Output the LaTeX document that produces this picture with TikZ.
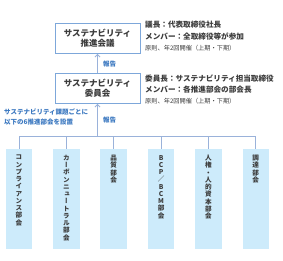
\documentclass[tikz,border=0pt]{standalone}
\usepackage{fontspec}
\setmainfont{Noto Sans CJK JP}
\newfontfamily\jp{Noto Sans CJK JP}
\newfontfamily\vjp[RawFeature=+vert]{Noto Sans CJK JP}
\usetikzlibrary{arrows.meta}
\definecolor{boxline}{HTML}{7DA7DA}
\definecolor{txt}{HTML}{3C3C3C}
\definecolor{bluetxt}{HTML}{3B78C0}
\definecolor{conn}{HTML}{9AB2DA}
\definecolor{barfill}{HTML}{CDEBFB}
\tikzset{
  mainbox/.style={draw=boxline, line width=0.8pt, fill=white, minimum width=85pt, minimum height=30pt, inner sep=0pt, align=center, text=txt, font=\jp\bfseries\fontsize{8.5}{10}\selectfont},
  info/.style={anchor=west, inner sep=0pt, text=txt, font=\jp\bfseries\fontsize{7.6}{9}\selectfont},
  infosmall/.style={anchor=west, inner sep=0pt, text=txt, font=\jp\fontsize{6.2}{8}\selectfont},
  bluelabel/.style={inner sep=0pt, text=bluetxt, font=\jp\bfseries\fontsize{6.5}{9.3}\selectfont},
  bar/.style={fill=barfill, draw=none, minimum width=26.5pt, minimum height=100pt, inner sep=0pt, anchor=north},
  vtext/.style={anchor=north, inner sep=0pt, align=center, text=txt, font=\vjp\bfseries\fontsize{6.6}{7.25}\selectfont},
  connector/.style={draw=conn, line width=0.9pt},
  uparrow/.style={draw=conn, line width=0.9pt, -{Straight Barb[length=2.5pt,width=5pt]}}
}
\begin{document}
\begin{tikzpicture}[x=1pt,y=-1pt]
\useasboundingbox (0,0) rectangle (283,260);

\node[mainbox] (council) at (97.5,38.5) {サステナビリティ\\推進会議};
\node[mainbox] (committee) at (97.5,88.5) {サステナビリティ\\委員会};

\node[info] (c1) at (145,25) {議長：代表取締役社長};
\node[info] (c2) at (145,36.5) {メンバー：全取締役等が参加};
\node[infosmall] (c3) at (145,48) {原則、年2回開催（上期・下期）};

\node[info] (m1) at (145,79) {委員長：サステナビリティ担当取締役};
\node[info] (m2) at (145,90) {メンバー：各推進部会の部会長};
\node[infosmall] (m3) at (145,101) {原則、年2回開催（上期・下期）};

\node[bluelabel, anchor=north west, align=left] (lbl) at (4,109) {サステナビリティ課題ごとに\\以下の6推進部会を設置};
\node[bluelabel, anchor=west] (rep1) at (103,64.5) {報告};
\node[bluelabel, anchor=west] (rep2) at (103,120.5) {報告};

\foreach \i/\t in {1/{コ\\ン\\プ\\ラ\\イ\\ア\\ン\\ス\\部\\会},
                   2/{カ\\ー\\ボ\\ン\\ニ\\ュ\\ー\\ト\\ラ\\ル\\部\\会},
                   3/{品\\質\\部\\会},
                   4/{B\\C\\P\\／\\B\\C\\M\\部\\会},
                   5/{人\\権\\・\\人\\的\\資\\本\\部\\会},
                   6/{調\\達\\部\\会}}{
  \node[bar] (b\i) at ({19+47.35*(\i-1)},149) {};
  \node[vtext] (t\i) at ([yshift=-6pt]b\i.north) {\t};
}

\coordinate (j) at (97.5,136);
\coordinate (hl) at (b1.north |- j);
\coordinate (hr) at (b6.north |- j);
\draw[connector] (hl) -- (hr);
\foreach \i in {1,...,6}{
  \draw[connector] (b\i.north |- j) -- (b\i.north);
}
\draw[uparrow] (j) -- (committee.south);
\draw[uparrow] (committee.north) -- (council.south);
\end{tikzpicture}
\end{document}
